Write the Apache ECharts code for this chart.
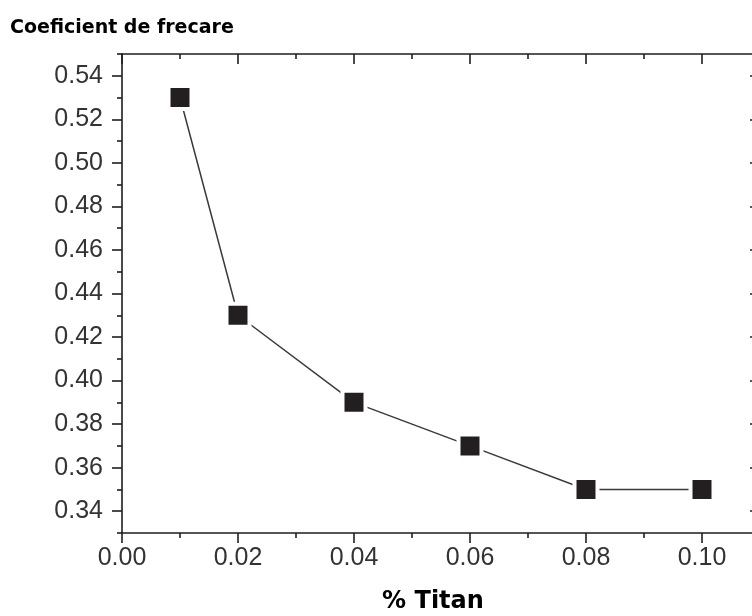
<!DOCTYPE html>
<html>
<head>
<meta charset="utf-8">
<script src="https://cdn.jsdelivr.net/npm/echarts@6/dist/echarts.min.js"></script>
<style>
  html, body { margin: 0; padding: 0; background: #fff; }
  #chart { width: 752px; height: 616px; }
</style>
</head>
<body>
<div id="chart"></div>
<script>
// Friction coefficient versus titanium content
const titanPct = [0.01, 0.02, 0.04, 0.06, 0.08, 0.10];
const frictionCoef = [0.53, 0.43, 0.39, 0.37, 0.35, 0.35];

// Axis ranges and tick positions
const xRange = [0, 0.11];
const yRange = [0.33, 0.55];
const xMajorTicks = [0, 0.02, 0.04, 0.06, 0.08, 0.10];
const xMinorTicks = [0.01, 0.03, 0.05, 0.07, 0.09];
const yMajorTicks = [0.34, 0.36, 0.38, 0.40, 0.42, 0.44, 0.46, 0.48, 0.50, 0.52, 0.54];
const yMinorTicks = [0.33, 0.35, 0.37, 0.39, 0.41, 0.43, 0.45, 0.47, 0.49, 0.51, 0.53, 0.55];

const axisColor = '#1e1e1e';
const labelFont = "'Liberation Sans', Arial, sans-serif";
const boldFont = "'DejaVu Sans', sans-serif";
const lineStyle = { color: axisColor, width: 1.6 };
const fmt = v => v.toFixed(2);

function axis(kind, range, position, opts) {
  const major = opts.major;
  return {
    type: 'value',
    min: range[0],
    max: range[1],
    position: position,
    axisLine: { show: major, onZero: false, lineStyle: lineStyle },
    axisTick: {
      show: true,
      inside: opts.inside,
      length: major ? 10 : 5,
      customValues: opts.ticks,
      lineStyle: lineStyle
    },
    axisLabel: opts.labels ? {
      show: true,
      customValues: opts.ticks,
      formatter: fmt,
      margin: kind === 'x' ? 13 : 19,
      fontFamily: labelFont,
      fontSize: 25,
      color: '#333'
    } : { show: false },
    splitLine: { show: false },
    minorTick: { show: false }
  };
}

const xAxes = [
  Object.assign(axis('x', xRange, 'bottom', { major: true, inside: false, ticks: xMajorTicks, labels: true }), {
    name: '% Titan',
    nameLocation: 'middle',
    nameGap: 57,
    nameTextStyle: { fontFamily: boldFont, fontWeight: 'bold', fontSize: 24, color: '#000', padding: [0, 16, 0, 0] }
  }),
  axis('x', xRange, 'bottom', { major: false, inside: false, ticks: xMinorTicks }),
  axis('x', xRange, 'top', { major: true, inside: true, ticks: xMajorTicks }),
  axis('x', xRange, 'top', { major: false, inside: true, ticks: xMinorTicks })
];

const yAxes = [
  axis('y', yRange, 'left', { major: true, inside: false, ticks: yMajorTicks, labels: true }),
  axis('y', yRange, 'left', { major: false, inside: false, ticks: yMinorTicks }),
  axis('y', yRange, 'right', { major: true, inside: true, ticks: yMajorTicks }),
  axis('y', yRange, 'right', { major: false, inside: true, ticks: yMinorTicks })
];

const chart = echarts.init(document.getElementById('chart'), null, { renderer: 'canvas' });
chart.setOption({
  animation: false,
  backgroundColor: '#fff',
  title: {
    text: 'Coeficient de frecare',
    left: 5,
    top: 14,
    textStyle: { fontFamily: boldFont, fontWeight: 'bold', fontSize: 19, color: '#000' }
  },
  grid: {
    left: 122, top: 54, width: 638, height: 479,
    containLabel: false,
    outerBoundsMode: 'none'
  },
  xAxis: xAxes,
  yAxis: yAxes,
  series: [{
    type: 'line',
    xAxisIndex: 0,
    yAxisIndex: 0,
    data: titanPct.map((x, i) => [x, frictionCoef[i]]),
    lineStyle: { color: '#3a3a3a', width: 1.5 },
    symbol: 'rect',
    symbolSize: 23,
    itemStyle: { color: '#231f20', borderColor: '#fff', borderWidth: 4 },
    z: 5
  }]
});
</script>
</body>
</html>
